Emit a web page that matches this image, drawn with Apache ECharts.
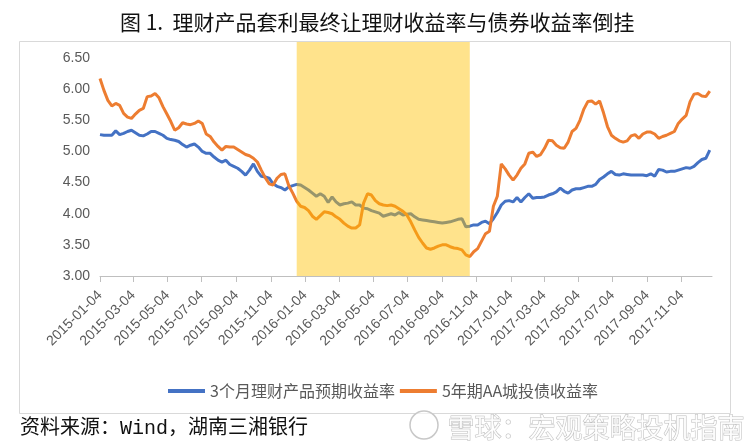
<!DOCTYPE html>
<html>
<head>
<meta charset="utf-8">
<script src="https://cdn.jsdelivr.net/npm/echarts@6/dist/echarts.min.js"></script>
<style>
html,body{margin:0;padding:0;background:#fff;}
#chart{width:753px;height:448px;}
</style>
</head>
<body>
<div id="chart"></div>
<script>
// Weekly observation dates
const dates = [
'2015-01-04','2015-01-11','2015-01-18','2015-01-25','2015-02-01','2015-02-08','2015-02-15','2015-02-22','2015-03-01','2015-03-08',
'2015-03-15','2015-03-22','2015-03-29','2015-04-05','2015-04-12','2015-04-19','2015-04-26','2015-05-03','2015-05-10','2015-05-17',
'2015-05-24','2015-05-31','2015-06-07','2015-06-14','2015-06-21','2015-06-28','2015-07-05','2015-07-12','2015-07-19','2015-07-26',
'2015-08-02','2015-08-09','2015-08-16','2015-08-23','2015-08-30','2015-09-06','2015-09-13','2015-09-20','2015-09-27','2015-10-04',
'2015-10-11','2015-10-18','2015-10-25','2015-11-01','2015-11-08','2015-11-15','2015-11-22','2015-11-29','2015-12-06','2015-12-13',
'2015-12-20','2015-12-27','2016-01-03','2016-01-10','2016-01-17','2016-01-24','2016-01-31','2016-02-07','2016-02-14','2016-02-21',
'2016-02-28','2016-03-06','2016-03-13','2016-03-20','2016-03-27','2016-04-03','2016-04-10','2016-04-17','2016-04-24','2016-05-01',
'2016-05-08','2016-05-15','2016-05-22','2016-05-29','2016-06-05','2016-06-12','2016-06-19','2016-06-26','2016-07-03','2016-07-10',
'2016-07-17','2016-07-24','2016-07-31','2016-08-07','2016-08-14','2016-08-21','2016-08-28','2016-09-04','2016-09-11','2016-09-18',
'2016-09-25','2016-10-02','2016-10-09','2016-10-16','2016-10-23','2016-10-30','2016-11-06','2016-11-13','2016-11-20','2016-11-27',
'2016-12-04','2016-12-11','2016-12-18','2016-12-25','2017-01-01','2017-01-08','2017-01-15','2017-01-22','2017-01-29','2017-02-05',
'2017-02-12','2017-02-19','2017-02-26','2017-03-05','2017-03-12','2017-03-19','2017-03-26','2017-04-02','2017-04-09','2017-04-16',
'2017-04-23','2017-04-30','2017-05-07','2017-05-14','2017-05-21','2017-05-28','2017-06-04','2017-06-11','2017-06-18','2017-06-25',
'2017-07-02','2017-07-09','2017-07-16','2017-07-23','2017-07-30','2017-08-06','2017-08-13','2017-08-20','2017-08-27','2017-09-03',
'2017-09-10','2017-09-17','2017-09-24','2017-10-01','2017-10-08','2017-10-15','2017-10-22','2017-10-29','2017-11-05','2017-11-12',
'2017-11-19','2017-11-26','2017-12-03','2017-12-10','2017-12-17','2017-12-24'
];

// 3个月理财产品预期收益率
const wmpYield = [
5.27,5.26,5.26,5.26,5.33,5.27,5.29,5.32,5.34,5.30,
5.26,5.25,5.28,5.32,5.32,5.29,5.26,5.21,5.19,5.18,
5.16,5.11,5.07,5.10,5.12,5.07,5.00,4.97,4.97,4.91,
4.86,4.83,4.86,4.79,4.76,4.73,4.68,4.62,4.70,4.80,
4.68,4.60,4.59,4.57,4.48,4.44,4.42,4.38,4.43,4.45,
4.47,4.46,4.42,4.38,4.33,4.28,4.32,4.28,4.18,4.27,
4.19,4.14,4.16,4.17,4.19,4.14,4.14,4.09,4.08,4.05,
4.03,4.01,3.96,3.98,4.00,3.98,4.02,3.98,3.99,4.00,
3.95,3.91,3.90,3.89,3.88,3.87,3.86,3.85,3.86,3.87,
3.89,3.91,3.92,3.79,3.80,3.82,3.82,3.86,3.88,3.84,
3.92,4.02,4.14,4.20,4.21,4.19,4.26,4.19,4.26,4.32,
4.25,4.26,4.26,4.27,4.30,4.32,4.35,4.41,4.36,4.33,
4.38,4.40,4.40,4.42,4.44,4.44,4.47,4.55,4.59,4.64,
4.68,4.63,4.62,4.64,4.63,4.62,4.62,4.62,4.62,4.61,
4.64,4.60,4.71,4.70,4.67,4.68,4.68,4.70,4.72,4.74,
4.73,4.76,4.82,4.87,4.89,5.02
];

// 5年期AA城投债收益率
const aaBondYield = [
6.17,5.98,5.82,5.73,5.77,5.74,5.61,5.55,5.53,5.60,
5.66,5.69,5.88,5.89,5.93,5.86,5.72,5.60,5.48,5.34,
5.38,5.46,5.44,5.43,5.45,5.49,5.45,5.28,5.24,5.15,
5.08,5.02,5.08,5.07,5.07,5.03,4.99,4.95,4.93,4.89,
4.83,4.70,4.58,4.48,4.46,4.57,4.63,4.64,4.45,4.33,
4.20,4.12,4.10,4.05,3.96,3.91,3.97,4.03,4.02,4.00,
3.95,3.91,3.85,3.80,3.77,3.77,3.82,4.17,4.32,4.30,
4.21,4.16,4.14,4.13,4.14,4.12,4.08,4.04,3.98,3.87,
3.74,3.62,3.53,3.45,3.43,3.45,3.48,3.50,3.50,3.47,
3.45,3.44,3.42,3.34,3.31,3.39,3.44,3.56,3.68,3.72,
4.12,4.28,4.80,4.72,4.62,4.54,4.62,4.73,4.80,4.97,
4.99,4.92,4.95,5.05,5.18,5.17,5.10,5.06,5.05,5.15,
5.32,5.37,5.50,5.68,5.80,5.81,5.76,5.81,5.62,5.40,
5.26,5.21,5.17,5.15,5.17,5.25,5.27,5.21,5.28,5.31,
5.31,5.28,5.21,5.24,5.26,5.29,5.32,5.45,5.52,5.58,
5.80,5.92,5.93,5.89,5.88,5.97
];

const seriesNames = ['3个月理财产品预期收益率', '5年期AA城投债收益率'];
const tickDates = [
'2015-01-04','2015-03-04','2015-05-04','2015-07-04','2015-09-04','2015-11-04',
'2016-01-04','2016-03-04','2016-05-04','2016-07-04','2016-09-04','2016-11-04',
'2017-01-04','2017-03-04','2017-05-04','2017-07-04','2017-09-04','2017-11-04'
];
const shadeRange = ['2015-12-20', '2016-10-23'];
const axisRange = ['2015-01-04', '2017-12-28'];
const yRange = [3, 6.757];
const titleText = '图 1.  理财产品套利最终让理财收益率与债券收益率倒挂';
const sourceText = '资料来源：Wind，湖南三湘银行';
const watermarkText = '雪球：宏观策略投机指南';

const DAY = 86400000;
function utc(s) {
  const p = s.split('-').map(Number);
  return Date.UTC(p[0], p[1] - 1, p[2]);
}
const origin = utc(axisRange[0]);
// day number since the axis start (value axis coordinate)
function dayNum(s) { return Math.round((utc(s) - origin) / DAY); }
function pad(n) { return (n < 10 ? '0' : '') + n; }
function fmtDay(v) {
  const d = new Date(origin + Math.round(v) * DAY);
  return d.getUTCFullYear() + '-' + pad(d.getUTCMonth() + 1) + '-' + pad(d.getUTCDate());
}

const chart = echarts.init(document.getElementById('chart'), null, {renderer: 'canvas'});
const tickDays = tickDates.map(dayNum);

const option = {
  backgroundColor: '#ffffff',
  animation: false,
  title: {
    text: titleText,
    left: 120,
    top: 12,
    padding: 0,
    textStyle: {
      fontFamily: "'Noto Sans CJK SC', sans-serif",
      fontSize: 21,
      fontWeight: 'normal',
      color: '#111111'
    }
  },
  grid: {left: 100, right: 41, top: 42, bottom: 172, containLabel: false},
  legend: {
    data: seriesNames,
    left: 163,
    top: 378,
    icon: 'rect',
    itemWidth: 37,
    itemHeight: 4,
    itemGap: 5,
    textStyle: {
      fontFamily: "'Noto Sans CJK SC', sans-serif",
      fontSize: 16,
      color: '#595959'
    }
  },
  xAxis: {
    type: 'value',
    min: dayNum(axisRange[0]),
    max: dayNum(axisRange[1]),
    axisLine: {show: true, lineStyle: {color: '#BFBFBF', width: 1}},
    axisTick: {show: true, customValues: tickDays, length: 6, lineStyle: {color: '#BFBFBF'}},
    splitLine: {show: false},
    axisLabel: {
      customValues: tickDays,
      rotate: 45,
      margin: 17,
      fontSize: 14,
      fontFamily: "'Liberation Sans', Arial, sans-serif",
      color: '#595959',
      hideOverlap: false,
      formatter: function (v) { return fmtDay(v); }
    }
  },
  yAxis: {
    type: 'value',
    min: yRange[0],
    max: yRange[1],
    interval: 0.5,
    axisLine: {show: false},
    axisTick: {show: false},
    splitLine: {show: false},
    axisLabel: {
      margin: 10,
      fontSize: 14,
      fontFamily: "'Liberation Sans', Arial, sans-serif",
      color: '#595959',
      formatter: function (v) {
        return Math.abs(v * 2 - Math.round(v * 2)) < 1e-6 ? v.toFixed(2) : '';
      }
    }
  },
  series: [
    {
      name: seriesNames[0],
      type: 'line',
      showSymbol: false,
      symbol: 'none',
      z: 2,
      lineStyle: {color: '#4472C4', width: 3},
      itemStyle: {color: '#4472C4'},
      data: dates.map(function (d, i) { return [dayNum(d), wmpYield[i]]; })
    },
    {
      name: seriesNames[1],
      type: 'line',
      showSymbol: false,
      symbol: 'none',
      z: 2,
      lineStyle: {color: '#ED7D31', width: 3},
      itemStyle: {color: '#ED7D31'},
      data: dates.map(function (d, i) { return [dayNum(d), aaBondYield[i]]; })
    },
    {
      name: 'shade',
      type: 'custom',
      z: 10,
      silent: true,
      encode: {x: [0, 1], y: [2, 3]},
      data: [[dayNum(shadeRange[0]), dayNum(shadeRange[1]), yRange[0], yRange[1]]],
      renderItem: function (params, api) {
        const tl = api.coord([api.value(0), api.value(3)]);
        const br = api.coord([api.value(1), api.value(2)]);
        return {
          type: 'rect',
          shape: {x: tl[0], y: tl[1], width: br[0] - tl[0], height: br[1] - tl[1]},
          style: {fill: 'rgba(255,192,0,0.45)'}
        };
      }
    }
  ],
  graphic: [
    {
      type: 'rect',
      silent: true,
      shape: {x: 19.5, y: 41.5, width: 711, height: 372},
      style: {fill: 'none', stroke: '#D9D9D9', lineWidth: 1},
      z: -1
    },
    {
      type: 'text',
      left: 20,
      top: 419,
      silent: true,
      style: {
        text: sourceText,
        font: "20px 'Liberation Mono', 'Noto Sans CJK SC', monospace",
        fill: '#111111'
      }
    },
    {
      type: 'circle',
      silent: true,
      z: 20,
      shape: {cx: 424, cy: 425, r: 14},
      style: {fill: 'rgba(255,255,255,0.6)', stroke: '#C8C8C8', lineWidth: 1.5}
    },
    {
      type: 'text',
      left: 447,
      top: 414,
      silent: true,
      z: 20,
      style: {
        text: watermarkText,
        font: "27px 'Noto Sans CJK SC', sans-serif",
        fill: 'rgba(255,255,255,0.85)',
        stroke: '#BDBDBD',
        lineWidth: 1
      }
    }
  ]
};
chart.setOption(option);
</script>
</body>
</html>
